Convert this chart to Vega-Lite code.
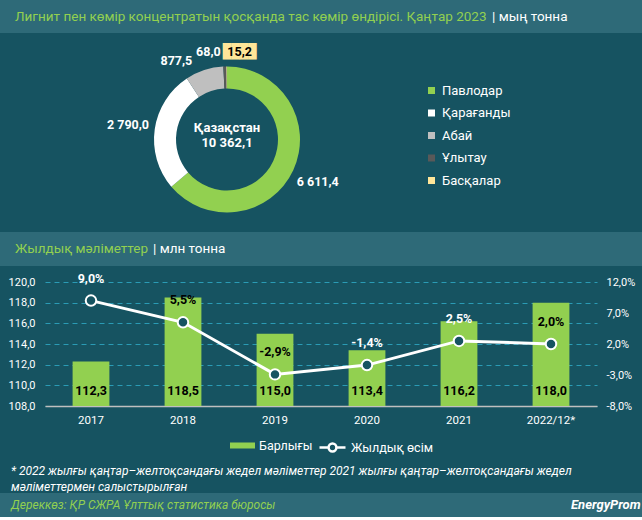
{
  "$schema": "https://vega.github.io/schema/vega-lite/v6.json",
  "background": "#165361",
  "padding": 0,
  "spacing": 0,
  "resolve": {"scale": {"color": "independent", "stroke": "independent", "x": "independent", "y": "independent"}, "legend": {"color": "independent", "stroke": "independent"}},
  "config": {
    "font": "Roboto",
    "locale": {"number": {"decimal": ",", "thousands": " ", "grouping": [3], "currency": ["", ""], "minus": "-"}},
    "view": {"stroke": null},
    "concat": {"spacing": 0}
  },
  "vconcat": [
    {
      "width": 642, "height": 33,
      "view": {"fill": "#2E6A78", "stroke": null},
      "data": {"values": [
        {"part": "main", "label": "Лигнит пен көмір концентратын қосқанда тас көмір өндірісі. Қаңтар 2023"},
        {"part": "unit", "label": "| мың тонна"}
      ]},
      "mark": {"type": "text", "align": "left", "baseline": "middle", "fontSize": 13.5},
      "encoding": {
        "x": {"field": "part", "type": "nominal", "scale": {"type": "point", "domain": ["main", "unit"], "range": [15, 492], "padding": 0}, "axis": null},
        "text": {"field": "label"},
        "color": {"field": "part", "type": "nominal", "scale": {"domain": ["main", "unit"], "range": ["#92D050", "#FFFFFF"]}, "legend": null}
      }
    },
    {
      "width": 454, "height": 196,
      "data": {"values": [
        {"i": 1, "region": "Павлодар", "value": 6611.4},
        {"i": 2, "region": "Қарағанды", "value": 2790.0},
        {"i": 3, "region": "Абай", "value": 877.5},
        {"i": 4, "region": "Ұлытау", "value": 68.0},
        {"i": 5, "region": "Басқалар", "value": 15.2}
      ]},
      "layer": [
        {
          "mark": {"type": "arc", "innerRadius": 51, "outerRadius": 73, "yOffset": 5.5},
          "encoding": {
            "theta": {"field": "value", "type": "quantitative", "stack": true},
            "order": {"field": "i", "type": "quantitative"},
            "color": {"field": "region", "type": "nominal",
              "scale": {"domain": ["Павлодар", "Қарағанды", "Абай", "Ұлытау", "Басқалар"], "range": ["#92D050", "#FFFFFF", "#BFBFBF", "#595959", "#FFE699"]},
              "legend": {"orient": "none", "legendX": 425, "legendY": 48, "title": null, "symbolType": "square", "symbolSize": 49, "symbolStrokeWidth": 0, "labelColor": "white", "labelFontSize": 13, "labelOffset": 4, "rowPadding": 8.5, "padding": 0}}
          }
        },
        {
          "mark": {"type": "text", "radius": 100, "yOffset": 5.5, "fontWeight": "bold", "fontSize": 12.5, "color": "white"},
          "encoding": {
            "theta": {"field": "value", "type": "quantitative", "stack": true},
            "order": {"field": "i", "type": "quantitative"},
            "text": {"condition": {"test": "datum.i <= 2", "field": "value", "format": ",.1f"}, "value": ""}
          }
        },
        {
          "mark": {"type": "text", "radius": 92, "yOffset": 5.5, "dx": -22, "dy": 9, "fontWeight": "bold", "fontSize": 12.5, "color": "white"},
          "encoding": {
            "theta": {"field": "value", "type": "quantitative", "stack": true},
            "order": {"field": "i", "type": "quantitative"},
            "text": {"condition": {"test": "datum.i == 3", "field": "value", "format": ",.1f"}, "value": ""}
          }
        },
        {
          "mark": {"type": "text", "radius": 88, "yOffset": 5.5, "dx": -16, "fontWeight": "bold", "fontSize": 12.5, "color": "white"},
          "encoding": {
            "theta": {"field": "value", "type": "quantitative", "stack": true},
            "order": {"field": "i", "type": "quantitative"},
            "text": {"condition": {"test": "datum.i == 4", "field": "value", "format": ",.1f"}, "value": ""}
          }
        },
        {
          "mark": {"type": "text", "radius": 88, "yOffset": 5.5, "dx": 13, "fontSize": 14, "font": "DejaVu Sans Mono", "color": "#FFE699"},
          "encoding": {
            "theta": {"field": "value", "type": "quantitative", "stack": true},
            "order": {"field": "i", "type": "quantitative"},
            "text": {"condition": {"test": "datum.i == 5", "value": "████"}, "value": ""}
          }
        },
        {
          "mark": {"type": "text", "radius": 88, "yOffset": 5.5, "dx": 13, "fontWeight": "bold", "fontSize": 12.5, "color": "black"},
          "encoding": {
            "theta": {"field": "value", "type": "quantitative", "stack": true},
            "order": {"field": "i", "type": "quantitative"},
            "text": {"condition": {"test": "datum.i == 5", "field": "value", "format": ",.1f"}, "value": ""}
          }
        },
        {
          "data": {"values": [{"name": "Қазақстан", "total": 10362.1}]},
          "layer": [
            {"mark": {"type": "text", "dy": -6, "fontWeight": "bold", "fontSize": 13, "color": "white"}, "encoding": {"text": {"field": "name"}}},
            {"mark": {"type": "text", "dy": 9, "fontWeight": "bold", "fontSize": 13, "color": "white"}, "encoding": {"text": {"field": "total", "format": ",.1f"}}}
          ]
        }
      ]
    },
    {
      "width": 642, "height": 34,
      "view": {"fill": "#2E6A78", "stroke": null},
      "data": {"values": [
        {"part": "main", "label": "Жылдық мәліметтер"},
        {"part": "unit", "label": "| млн тонна"}
      ]},
      "mark": {"type": "text", "align": "left", "baseline": "middle", "fontSize": 13.5},
      "encoding": {
        "x": {"field": "part", "type": "nominal", "scale": {"type": "point", "domain": ["main", "unit"], "range": [15, 153], "padding": 0}, "axis": null},
        "text": {"field": "label"},
        "color": {"field": "part", "type": "nominal", "scale": {"domain": ["main", "unit"], "range": ["#92D050", "#FFFFFF"]}, "legend": null}
      }
    },
    {
      "width": 642, "height": 124,
      "title": {
        "text": ["* 2022 жылғы қаңтар–желтоқсандағы жедел мәліметтер 2021 жылғы қаңтар–желтоқсандағы жедел", "мәліметтермен салыстырылған"],
        "orient": "bottom", "anchor": "start", "frame": "group", "dx": 11, "offset": 9,
        "color": "white", "fontSize": 12, "fontStyle": "italic", "fontWeight": "normal", "lineHeight": 15.5
      },
      "data": {"values": [
        {"year": "2017", "total": 112.3, "growth": 0.090},
        {"year": "2018", "total": 118.5, "growth": 0.055},
        {"year": "2019", "total": 115.0, "growth": -0.029},
        {"year": "2020", "total": 113.4, "growth": -0.014},
        {"year": "2021", "total": 116.2, "growth": 0.025},
        {"year": "2022/12*", "total": 118.0, "growth": 0.020}
      ]},
      "encoding": {
        "x": {"field": "year", "type": "ordinal", "sort": null, "scale": {"range": [45, 597], "paddingInner": 0.6, "paddingOuter": 0.3},
          "axis": {"title": null, "labelAngle": 0, "labelColor": "white", "labelFontSize": 11.5, "labelPadding": 8, "ticks": false, "domain": true, "domainColor": "#BFBFBF", "domainWidth": 1.5}}
      },
      "layer": [
        {
          "layer": [
            {
              "mark": {"type": "bar"},
              "encoding": {
                "y": {"field": "total", "type": "quantitative", "scale": {"domain": [108, 120], "zero": false},
                  "axis": {"values": [108, 110, 112, 114, 116, 118, 120], "format": ",.1f", "offset": -45, "labelOverlap": false, "labelColor": "white", "labelFontSize": 11, "labelPadding": 10, "ticks": false, "domain": false, "grid": true, "gridColor": "#2A9BB5", "gridDash": [5, 4], "gridWidth": 1,
                    "title": "I", "titleOpacity": 0, "titleAngle": 0, "titleX": -40, "titleY": -16, "titleAlign": "left", "titleBaseline": "top", "titleFontSize": 10}},
                "y2": {"datum": 108},
                "color": {"datum": "Барлығы", "type": "nominal", "scale": {"range": ["#92D050"]},
                  "legend": {"orient": "none", "legendX": 230, "legendY": 151, "title": null, "symbolType": "M-1,-0.24H1V0.24H-1Z", "symbolSize": 625, "symbolStrokeWidth": 0, "labelColor": "white", "labelFontSize": 12.5, "labelOffset": 4, "padding": 0}}
              }
            },
            {
              "mark": {"type": "text", "fontWeight": "bold", "fontSize": 12.5, "color": "black", "baseline": "middle", "dy": -15},
              "encoding": {
                "y": {"datum": 108, "type": "quantitative",
                  "axis": {"values": [108, 110, 112, 114, 116, 118, 120], "format": ",.1f", "offset": -45, "labelOverlap": false, "labelColor": "white", "labelFontSize": 11, "labelPadding": 10, "ticks": false, "domain": false, "grid": true, "gridColor": "#2A9BB5", "gridDash": [5, 4], "gridWidth": 1,
                    "title": "I", "titleOpacity": 0, "titleAngle": 0, "titleX": -40, "titleY": -16, "titleAlign": "left", "titleBaseline": "top", "titleFontSize": 10}},
                "text": {"field": "total", "type": "quantitative", "format": ",.1f"}
              }
            }
          ]
        },
        {
          "layer": [
            {
              "mark": {"type": "line", "strokeWidth": 3},
              "encoding": {
                "y": {"field": "growth", "type": "quantitative", "scale": {"domain": [-0.08, 0.12]},
                  "axis": {"orient": "right", "offset": -45, "values": [-0.08, -0.03, 0.02, 0.07, 0.12], "format": ".1%", "labelOverlap": false, "labelColor": "white", "labelFontSize": 11, "labelPadding": 9, "ticks": false, "domain": false, "grid": false, "title": null}},
                "stroke": {"datum": "Жылдық өсім", "type": "nominal", "scale": {"range": ["#FFFFFF"]},
                  "legend": {"orient": "none", "legendX": 318, "legendY": 151, "title": null, "symbolType": "M-1,0H-0.3M0.3,0H1M0.3,0A0.3,0.3,0,1,1,-0.3,0A0.3,0.3,0,1,1,0.3,0", "symbolSize": 676, "symbolStrokeWidth": 2.5, "symbolFillColor": "#165361", "labelColor": "white", "labelFontSize": 12.5, "labelOffset": 4, "padding": 0}}
              }
            },
            {
              "mark": {"type": "point", "filled": true, "fill": "#165361", "stroke": "white", "strokeWidth": 2, "size": 110, "opacity": 1},
              "encoding": {"y": {"field": "growth", "type": "quantitative",
                "axis": {"orient": "right", "offset": -45, "values": [-0.08, -0.03, 0.02, 0.07, 0.12], "format": ".1%", "labelOverlap": false, "labelColor": "white", "labelFontSize": 11, "labelPadding": 9, "ticks": false, "domain": false, "grid": false, "title": null}}}
            },
            {
              "mark": {"type": "text", "fontWeight": "bold", "fontSize": 12.5, "dy": -22},
              "encoding": {
                "y": {"field": "growth", "type": "quantitative",
                  "axis": {"orient": "right", "offset": -45, "values": [-0.08, -0.03, 0.02, 0.07, 0.12], "format": ".1%", "labelOverlap": false, "labelColor": "white", "labelFontSize": 11, "labelPadding": 9, "ticks": false, "domain": false, "grid": false, "title": null}},
                "text": {"field": "growth", "type": "quantitative", "format": ".1%"},
                "color": {"condition": {"test": "(datum.growth + 0.08) / 0.2 + 0.18 > (datum.total - 108) / 12", "value": "white"}, "value": "black"}
              }
            }
          ]
        }
      ],
      "resolve": {"scale": {"y": "independent"}}
    },
    {
      "width": 642, "height": 24,
      "view": {"fill": "#2E6A78", "stroke": null},
      "data": {"values": [
        {"part": "source", "label": "Дереккөз: ҚР СЖРА Ұлттық статистика бюросы"},
        {"part": "logo", "label": "EnergyProm"}
      ]},
      "encoding": {
        "x": {"field": "part", "type": "nominal", "scale": {"type": "point", "domain": ["source", "logo"], "range": [11, 571], "padding": 0}, "axis": null},
        "text": {"field": "label"}
      },
      "layer": [
        {"transform": [{"filter": "datum.part == 'source'"}], "mark": {"type": "text", "align": "left", "baseline": "middle", "fontStyle": "italic", "fontSize": 12, "color": "#92D050"}},
        {"transform": [{"filter": "datum.part == 'logo'"}], "mark": {"type": "text", "align": "left", "baseline": "middle", "fontStyle": "italic", "fontWeight": "bold", "fontSize": 13, "color": "white"}}
      ]
    }
  ]
}
